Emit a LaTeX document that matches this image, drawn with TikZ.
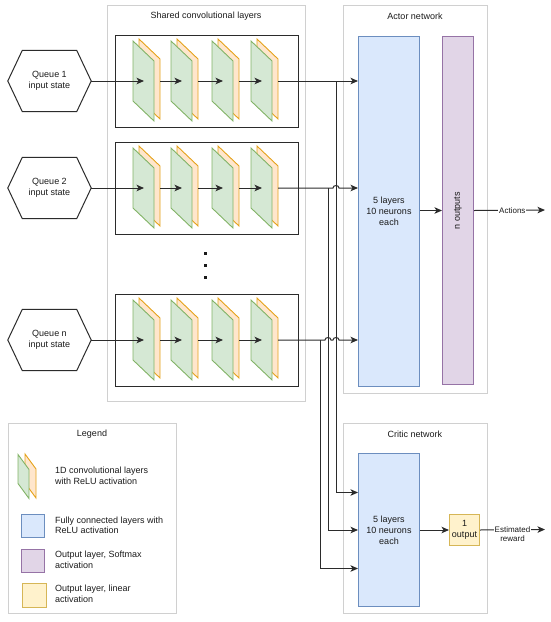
\documentclass[tikz,border=0pt]{standalone}
\usepackage{fontspec}
\setmainfont{Liberation Sans}
\usetikzlibrary{arrows.meta,calc}
\definecolor{gF}{HTML}{D5E8D4}\definecolor{gS}{HTML}{82B366}
\definecolor{oF}{HTML}{FFE6CC}\definecolor{oS}{HTML}{E5A21A}
\definecolor{bF}{HTML}{DAE8FC}\definecolor{bS}{HTML}{6C8EBF}
\definecolor{pF}{HTML}{E1D5E7}\definecolor{pS}{HTML}{9673A6}
\definecolor{yF}{HTML}{FFF2CC}\definecolor{yS}{HTML}{D6B656}
\definecolor{cont}{HTML}{D0D0D0}
\definecolor{ink}{HTML}{1A1A1A}
\definecolor{wire}{HTML}{2B2B2B}
\begin{document}
\begin{tikzpicture}[x=1pt,y=-1pt,
  font=\fontsize{9}{11}\selectfont, text=ink,
  container/.style={draw=cont, line width=0.9pt, anchor=north west, inner sep=0pt},
  convbox/.style={draw=wire, line width=1.1pt, anchor=north west, inner sep=0pt, minimum width=183pt},
  blue/.style={draw=bS, fill=bF, line width=1pt, anchor=north west, inner sep=0pt},
  purple/.style={draw=pS, fill=pF, line width=1pt, anchor=north west, inner sep=0pt},
  yellow/.style={draw=yS, fill=yF, line width=1pt, anchor=north west, inner sep=0pt},
  hexbox/.style={minimum width=83pt, minimum height=61pt, inner sep=0pt, align=center},
  hex/.style={draw=wire, line width=1pt},
  wireline/.style={draw=wire, line width=1pt},
  arr/.style={wireline, -{Stealth[length=7.5pt,width=6.5pt,inset=2pt]}},
  elabel/.style={fill=white, inner sep=0.8pt, font=\fontsize{8}{9}\selectfont, align=center},
  legtext/.style={anchor=west, align=left, inner sep=0pt, font=\fontsize{9}{10.5}\selectfont},
  title/.style={inner sep=0pt},
  layer/.pic={
    \draw[draw=oS, fill=oF, line width=0.9pt] (6,-2) -- (27,18) -- (27,78) -- (6,58) -- cycle;
    \draw[draw=gS, fill=gF, line width=0.9pt] (0,0) -- (21,20) -- (21,80) -- (0,60) -- cycle;
    \coordinate (-in) at (11,40);
    \coordinate (-out) at (27,40);
  },
  leglayer/.pic={
    \draw[draw=oS, fill=oF, line width=0.9pt] (7,-0.5) -- (18,14.5) -- (18,43.5) -- (7,28.5) -- cycle;
    \draw[draw=gS, fill=gF, line width=0.9pt] (0,0) -- (11,15) -- (11,44) -- (0,29) -- cycle;
  }
]
\useasboundingbox (0,0) rectangle (550,622);

% containers
\node[container, minimum width=198pt, minimum height=396pt] (shared) at (107,5) {};
\node[title] (sharedT) at (206,16) {Shared convolutional layers};
\node[container, minimum width=144pt, minimum height=388pt] (actor) at (343,5) {};
\node[title] (actorT) at (415,16) {Actor network};
\node[container, minimum width=144pt, minimum height=190pt] (critic) at (343,423) {};
\node[title] (criticT) at (415,434) {Critic network};
\node[container, minimum width=168pt, minimum height=190pt] (legend) at (8,423) {};
\node[title] (legendT) at (92,434) {Legend};

% conv boxes
\node[convbox, minimum height=92pt] (cb1) at (115,35) {};
\node[convbox, minimum height=92pt] (cb2) at (115,142) {};
\node[convbox, minimum height=92pt] (cb3) at (115,294) {};

% layers
\foreach \r/\t in {a/41,b/148,c/300}{
  \pic (\r1) at (133,\t) {layer};
  \pic (\r2) at (171,\t) {layer};
  \pic (\r3) at (212,\t) {layer};
  \pic (\r4) at (251,\t) {layer};
}

% dots
\fill[ink] (203.5,251.5) rectangle ++(3,3);
\fill[ink] (203.5,263.5) rectangle ++(3,3);
\fill[ink] (203.5,275.5) rectangle ++(3,3);

% queues
\foreach \n/\y/\lab in {q1/81/1,q2/188/2,qn/340/n}{
  \node[hexbox] (\n) at (49.5,\y) {Queue \lab\\input state};
  \draw[hex] (\n.west) -- ($(\n.north west)+(14.5,0)$) -- ($(\n.north east)+(-14.5,0)$)
    -- (\n.east) -- ($(\n.south east)+(-14.5,0)$) -- ($(\n.south west)+(14.5,0)$) -- cycle;
}

% actor network
\node[blue, minimum width=61pt, minimum height=350pt] (ab) at (358,36) {};
\node[align=center, inner sep=0pt] (abT) at (ab.center) {5 layers\\10 neurons\\each};
\node[purple, minimum width=31pt, minimum height=348pt] (ap) at (442,36) {};
\node[rotate=90, inner sep=0pt] (apT) at (ap.center) {n outputs};

% critic network
\node[blue, minimum width=61pt, minimum height=153pt] (cbl) at (358,453) {};
\node[align=center, inner sep=0pt] (cblT) at (cbl.center) {5 layers\\10 neurons\\each};
\node[yellow, minimum width=30pt, minimum height=31pt] (yo) at (449,514) {};
\node[align=center, inner sep=0pt] (yoT) at (yo.center) {1\\output};

% legend
\pic (lg) at (18,454.5) {leglayer};
\node[legtext] (l1) at (55,476) {1D convolutional layers\\with ReLU activation};
\node[blue, minimum width=23pt, minimum height=23pt] (lb) at (21,514) {};
\node[legtext] (l2) at (55,525.5) {Fully connected layers with\\ReLU activation};
\node[purple, minimum width=23pt, minimum height=23pt] (lp) at (21,549) {};
\node[legtext] (l3) at (55,560) {Output layer, Softmax\\activation};
\node[yellow, minimum width=24pt, minimum height=24pt] (ly) at (22,583) {};
\node[legtext] (l4) at (55,594) {Output layer, linear\\activation};

% chains inside conv boxes
\foreach \r/\q in {a/q1,b/q2,c/qn}{
  \draw[arr] (\q.east) -- (\r1-in);
  \draw[arr] (\r1-out) -- (\r2-in);
  \draw[arr] (\r2-out) -- (\r3-in);
  \draw[arr] (\r3-out) -- (\r4-in);
}

% junctions
\coordinate (j1) at (336,81);
\coordinate (j2) at (328,188);
\coordinate (j3) at (320,340);

% to actor
\draw[arr] (a4-out) -- (a4-out -| ab.west);
\draw[arr] (b4-out) -- ($(j1 |- b4-out)+(-3,0)$) to[bend left=90, looseness=1.4] ($(j1 |- b4-out)+(3,0)$) -- (b4-out -| ab.west);
\draw[arr] (c4-out) -- ($(j2 |- c4-out)+(-3,0)$) to[bend left=90, looseness=1.4] ($(j2 |- c4-out)+(3,0)$)
  -- ($(j1 |- c4-out)+(-3,0)$) to[bend left=90, looseness=1.4] ($(j1 |- c4-out)+(3,0)$) -- (c4-out -| ab.west);

% to critic
\draw[arr] (j1) |- ($(cbl.west)+(0,-37.5)$);
\draw[arr] (j2) |- (cbl.west);
\draw[arr] (j3) |- ($(cbl.west)+(0,38.5)$);

% internal arrows and outputs
\draw[arr] (ab.east |- ap.west) -- (ap.west);
\draw[arr] (cbl.east |- yo.west) -- (yo.west);
\coordinate (actOut) at (545,210);
\coordinate (rewOut) at (545,529.5);
\draw[arr] (ap.east) -- node[elabel, pos=0.54] (actL) {Actions} (actOut);
\draw[arr] (yo.east) -- node[elabel, pos=0.5, yshift=-4pt] (rewL) {Estimated\\reward} (rewOut);
\end{tikzpicture}
\end{document}
